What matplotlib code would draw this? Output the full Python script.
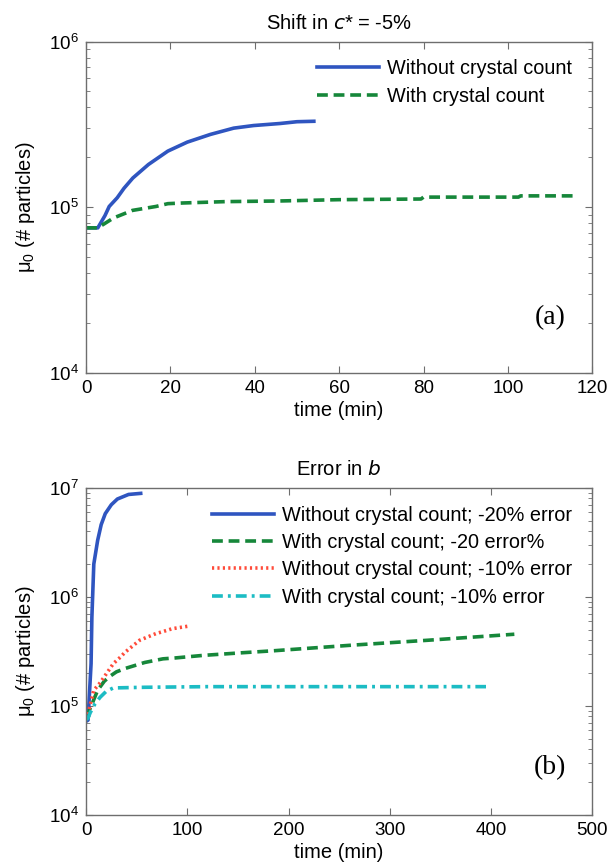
import matplotlib
matplotlib.use("Agg")
import matplotlib.pyplot as plt
from matplotlib.ticker import LogLocator, NullFormatter

plt.rcParams["font.family"] = ["Liberation Sans", "DejaVu Sans"]
plt.rcParams["mathtext.default"] = "regular"

# panel (a): shift in c* of -5%
t_a_without = [0, 2.8, 4.5, 5.5, 7.4, 9, 11.1, 14.8, 19.4, 24, 29.5, 35, 39.7, 46, 50, 54]
mu_a_without = [7.5e4, 7.5e4, 8.9e4, 1.01e5, 1.14e5, 1.30e5, 1.50e5, 1.81e5, 2.18e5,
                2.47e5, 2.75e5, 3.0e5, 3.11e5, 3.20e5, 3.28e5, 3.30e5]
t_a_with = [0, 2.8, 6.5, 11, 16.6, 19.4, 23, 33, 46, 60, 79.4, 80, 102.5, 103, 116.3]
mu_a_with = [7.5e4, 7.5e4, 8.6e4, 9.56e4, 1.01e5, 1.05e5, 1.06e5, 1.08e5,
             1.09e5, 1.11e5, 1.12e5, 1.15e5, 1.15e5, 1.17e5, 1.17e5]

# panel (b): error in b
t_b_without20 = [0, 2, 5, 5.8, 7.7, 11.5, 15, 19, 25, 31, 42, 54]
mu_b_without20 = [7.2e4, 7.4e4, 2.44e5, 6.5e5, 2.0e6, 3.3e6, 4.6e6, 5.8e6, 7.0e6,
                  7.9e6, 8.7e6, 8.9e6]
t_b_with20 = [0, 2, 11.5, 18, 23, 30, 38.5, 58, 76, 88, 115, 152, 185, 262, 338, 377, 423]
mu_b_with20 = [7.8e4, 8.5e4, 1.39e5, 1.68e5, 1.85e5, 2.05e5, 2.2e5, 2.5e5, 2.7e5, 2.75e5,
               2.9e5, 3.06e5, 3.2e5, 3.6e5, 4.0e5, 4.24e5, 4.54e5]
t_b_without10 = [0, 2, 7.7, 14, 27, 34, 38.5, 53, 69, 76, 85, 102]
mu_b_without10 = [7.5e4, 8.5e4, 1.39e5, 1.63e5, 2.44e5, 2.8e5, 3.1e5, 4.0e5,
                  4.6e5, 4.8e5, 5.1e5, 5.4e5]
t_b_with10 = [0, 2, 4, 9, 14, 20, 27, 58, 120, 200, 300, 395]
mu_b_with10 = [7.5e4, 7.7e4, 8.6e4, 1.05e5, 1.2e5, 1.36e5, 1.46e5, 1.48e5, 1.5e5,
               1.5e5, 1.5e5, 1.5e5]

BLUE = "#2f55c0"
GREEN = "#16873a"
RED = "#ff4b3a"
CYAN = "#1cbcc4"

fig = plt.figure(figsize=(6.10, 8.65), dpi=100)
ax_a = fig.add_axes([0.141, 0.569, 0.830, 0.383])
ax_b = fig.add_axes([0.141, 0.058, 0.830, 0.378])


def style_axes(ax):
    ax.set_yscale("log")
    for s in ax.spines.values():
        s.set_color("#6e6e6e")
        s.set_linewidth(1.0)
    ax.tick_params(which="both", direction="in", top=True, right=True,
                   colors="#6e6e6e", labelcolor="black", labelsize=13.5)
    ax.tick_params(which="major", length=5, pad=5)
    ax.tick_params(which="minor", length=3)
    ax.yaxis.set_minor_locator(LogLocator(base=10, subs=range(2, 10)))
    ax.yaxis.set_minor_formatter(NullFormatter())
    ax.set_ylabel(r"$\mu_0$ (# particles)", fontsize=14.5, labelpad=9)
    ax.set_xlabel("time (min)", fontsize=14.5, labelpad=3)


ax_a.plot(t_a_without, mu_a_without, color=BLUE, lw=2.6, label="Without crystal count")
ax_a.plot(t_a_with, mu_a_with, color=GREEN, lw=2.6, ls=(0, (3, 1.6)),
          label="With crystal count")
style_axes(ax_a)
ax_a.set_xlim(0, 120)
ax_a.set_ylim(1e4, 1e6)
ax_a.set_xticks(range(0, 121, 20))
ax_a.set_title(r"Shift in $\mathit{c}$* = -5%", fontsize=14.5, pad=9)
ax_a.legend(loc="upper right", bbox_to_anchor=(0.995, 1.0), frameon=False,
            fontsize=14.3, handlelength=3.1, handletextpad=0.4, labelspacing=0.42)
ax_a.text(0.917, 0.166, "(a)", transform=ax_a.transAxes, fontsize=20,
          family="Liberation Serif", ha="center", va="center")

ax_b.plot(t_b_without20, mu_b_without20, color=BLUE, lw=2.6,
          label="Without crystal count; -20% error")
ax_b.plot(t_b_with20, mu_b_with20, color=GREEN, lw=2.6, ls=(0, (3, 1.6)),
          label="With crystal count; -20 error%")
ax_b.plot(t_b_without10, mu_b_without10, color=RED, lw=2.6, ls=(0, (0.6, 0.9)),
          label="Without crystal count; -10% error")
ax_b.plot(t_b_with10, mu_b_with10, color=CYAN, lw=2.6, ls=(0, (3, 1.4, 0.8, 1.4)),
          label="With crystal count; -10% error")
style_axes(ax_b)
ax_b.set_xlim(0, 500)
ax_b.set_ylim(1e4, 1e7)
ax_b.set_xticks(range(0, 501, 100))
ax_b.set_title(r"Error in $\mathit{b}$", fontsize=14.5, pad=9)
ax_b.legend(loc="upper right", bbox_to_anchor=(0.995, 1.0), frameon=False,
            fontsize=14.3, handlelength=3.1, handletextpad=0.4, labelspacing=0.42)
ax_b.text(0.917, 0.144, "(b)", transform=ax_b.transAxes, fontsize=20,
          family="Liberation Serif", ha="center", va="center")

fig.savefig("out.png", dpi=100)
